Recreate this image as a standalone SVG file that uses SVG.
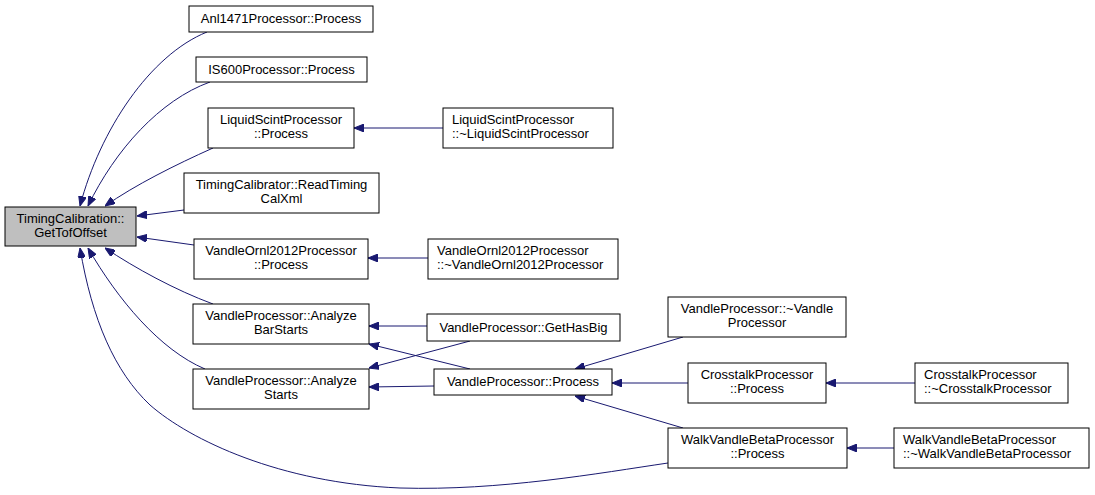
<svg xmlns="http://www.w3.org/2000/svg" width="1095" height="495" viewBox="0 0 1095 495">
<style>
.n rect{fill:#ffffff;stroke:#000000;stroke-width:1}
.n.main rect{fill:#bfbfbf}
.n text{font-family:"Liberation Sans",Arial,sans-serif;font-size:13px;fill:#000000}
.c{text-anchor:middle}
.e path{fill:none;stroke:#191970;stroke-width:1;marker-end:url(#ah)}
</style>
<defs>
<marker id="ah" viewBox="0 0 10 8" refX="10" refY="4" markerWidth="10" markerHeight="8" markerUnits="userSpaceOnUse" orient="auto">
<path d="M0,0 L10,4 L0,8 z" fill="#191970" stroke="#191970" stroke-width="1"/>
</marker>
</defs>
<rect width="1095" height="495" fill="#ffffff"/>
<g id="edges" class="e">
<path d="M207,32 C150,55 100,130 80,206"/>
<path d="M210,82 C160,100 115,150 88,206"/>
<path d="M213,148 C175,165 135,185 105,206"/>
<path d="M184,210 L137,216"/>
<path d="M194,245 L137,237"/>
<path d="M213,304 C175,290 135,268 105,248"/>
<path d="M205,369 C160,350 118,300 88,248"/>
<path d="M668,463 C600,473 500,491 400,488 C280,483 190,440 150,405 C115,372 92,320 80,248"/>
<path d="M443,128 L354,128"/>
<path d="M428,258 L368,258"/>
<path d="M427,326 L369,326"/>
<path d="M470,341 L369,368"/>
<path d="M470,369 L369,344"/>
<path d="M434,386 L369,387"/>
<path d="M683,337 L575,369"/>
<path d="M688,383 L612,383"/>
<path d="M683,428 L575,396"/>
<path d="M915,383 L826,383"/>
<path d="M894,448 L847,448"/>
</g>
<g id="node_main" class="n main"><rect x="5" y="207" width="131" height="39"/><text class="c" x="70.5" y="223">TimingCalibration::</text><text class="c" x="70.5" y="237">GetTofOffset</text></g>
<g id="node_anl" class="n"><rect x="189" y="6" width="184" height="26"/><text class="c" x="281" y="23">Anl1471Processor::Process</text></g>
<g id="node_is600" class="n"><rect x="196" y="57" width="171" height="25"/><text class="c" x="281.5" y="74">IS600Processor::Process</text></g>
<g id="node_liq" class="n"><rect x="208" y="108" width="146" height="40"/><text class="c" x="281" y="124">LiquidScintProcessor</text><text class="c" x="281" y="138">::Process</text></g>
<g id="node_rtc" class="n"><rect x="184" y="173" width="195" height="40"/><text class="c" x="281.5" y="189">TimingCalibrator::ReadTiming</text><text class="c" x="281.5" y="203">CalXml</text></g>
<g id="node_vop" class="n"><rect x="194" y="239" width="174" height="40"/><text class="c" x="281" y="255">VandleOrnl2012Processor</text><text class="c" x="281" y="269">::Process</text></g>
<g id="node_abs" class="n"><rect x="193" y="304" width="176" height="40"/><text class="c" x="281" y="320">VandleProcessor::Analyze</text><text class="c" x="281" y="334">BarStarts</text></g>
<g id="node_as" class="n"><rect x="193" y="369" width="176" height="40"/><text class="c" x="281" y="385">VandleProcessor::Analyze</text><text class="c" x="281" y="399">Starts</text></g>
<g id="node_liqd" class="n"><rect x="443" y="108" width="170" height="40"/><text x="452" y="124">LiquidScintProcessor</text><text x="452" y="138">::~LiquidScintProcessor</text></g>
<g id="node_vopd" class="n"><rect x="428" y="239" width="190" height="40"/><text x="437" y="255">VandleOrnl2012Processor</text><text x="437" y="269">::~VandleOrnl2012Processor</text></g>
<g id="node_ghb" class="n"><rect x="427" y="314" width="193" height="27"/><text class="c" x="523.5" y="332">VandleProcessor::GetHasBig</text></g>
<g id="node_vp" class="n"><rect x="434" y="369" width="178" height="26"/><text class="c" x="523" y="386">VandleProcessor::Process</text></g>
<g id="node_vpd" class="n"><rect x="668" y="297" width="178" height="40"/><text class="c" x="757" y="313">VandleProcessor::~Vandle</text><text class="c" x="757" y="327">Processor</text></g>
<g id="node_cp" class="n"><rect x="688" y="363" width="138" height="40"/><text class="c" x="757" y="379">CrosstalkProcessor</text><text class="c" x="757" y="393">::Process</text></g>
<g id="node_cpd" class="n"><rect x="915" y="363" width="153" height="40"/><text x="924" y="379">CrosstalkProcessor</text><text x="924" y="393">::~CrosstalkProcessor</text></g>
<g id="node_wp" class="n"><rect x="668" y="428" width="179" height="40"/><text class="c" x="757.5" y="444">WalkVandleBetaProcessor</text><text class="c" x="757.5" y="458">::Process</text></g>
<g id="node_wpd" class="n"><rect x="894" y="428" width="195" height="40"/><text x="903" y="444">WalkVandleBetaProcessor</text><text x="903" y="458">::~WalkVandleBetaProcessor</text></g>
</svg>
